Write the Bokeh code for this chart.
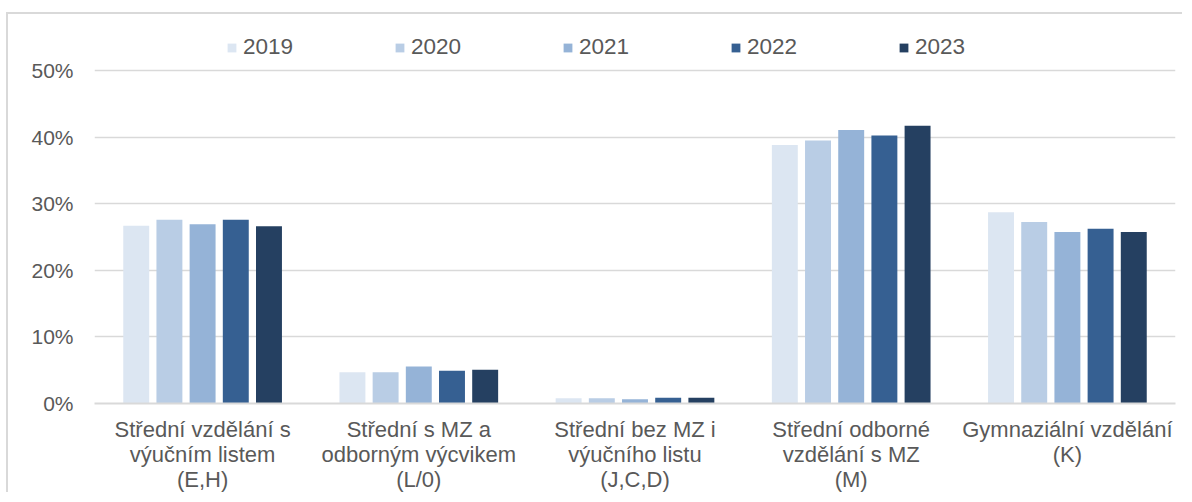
from bokeh.plotting import figure
from bokeh.models import (ColumnDataSource, FactorRange, Range1d, FixedTicker,
                          PrintfTickFormatter, Legend, LegendItem)
from bokeh.transform import dodge
from bokeh.embed import file_html
from bokeh.resources import INLINE

categories = [
    "Střední vzdělání s\nvýučním listem\n(E,H)",
    "Střední s MZ a\nodborným výcvikem\n(L/0)",
    "Střední bez MZ i\nvýučního listu\n(J,C,D)",
    "Střední odborné\nvzdělání s MZ\n(M)",
    "Gymnaziální vzdělání\n(K)",
]
years = ["2019", "2020", "2021", "2022", "2023"]
v2019 = [26.7, 4.7, 0.8, 38.8, 28.7]
v2020 = [27.6, 4.7, 0.8, 39.5, 27.25]
v2021 = [26.9, 5.55, 0.65, 41.05, 25.75]
v2022 = [27.6, 4.9, 0.85, 40.25, 26.25]
v2023 = [26.6, 5.05, 0.85, 41.7, 25.75]
y_ticks = [0, 10, 20, 30, 40, 50]

colors = ["#DCE6F2", "#B9CDE5", "#95B3D7", "#366092", "#254061"]
series = [v2019, v2020, v2021, v2022, v2023]

src = ColumnDataSource(dict(cat=categories, **{y: s for y, s in zip(years, series)}))

FONT = "Liberation Sans"
TXT = "#595959"
GRID = "#D9D9D9"

# frame spans from just above the legend down to 0 %; the chart box border is CSS
p = figure(width=1176, height=480, x_range=FactorRange(factors=categories, range_padding=0),
           y_range=Range1d(0, 57.06), output_backend="svg", toolbar_location=None,
           min_border_left=86, min_border_right=9, min_border_top=9, min_border_bottom=91,
           styles={"margin-left": "6px", "margin-top": "12px",
                   "border-left": "2px solid #D9D9D9", "border-top": "2px solid #D9D9D9"})
p.outline_line_color = None
p.background_fill_color = "white"
p.border_fill_color = "white"

step = 0.1535
width = 0.12
renderers = []
for i, (yr, col) in enumerate(zip(years, colors)):
    r = p.vbar(x=dodge("cat", (i - 2) * step, range=p.x_range), top=yr, width=width,
               source=src, fill_color=col, line_color=None)
    renderers.append(r)

for ax in (p.xaxis, p.yaxis):
    ax.major_tick_line_color = None
    ax.minor_tick_line_color = None
    ax.major_tick_out = 0
    ax.major_tick_in = 0
    ax.minor_tick_out = 0
    ax.major_label_text_font = FONT
    ax.major_label_text_color = TXT

p.yaxis.ticker = FixedTicker(ticks=y_ticks)
p.yaxis.formatter = PrintfTickFormatter(format="%d%%")
p.yaxis.axis_line_color = None
p.yaxis.major_label_standoff = 21
p.yaxis.major_label_text_font_size = "21px"

p.xaxis.axis_line_color = GRID
p.xaxis.axis_line_width = 2
p.xaxis.major_label_standoff = 13
p.xaxis.major_label_text_font_size = "22px"
p.xaxis.major_label_text_line_height = 1.0

p.xgrid.grid_line_color = None
p.ygrid.grid_line_color = GRID
p.ygrid.grid_line_width = 1.5

legend = Legend(items=[LegendItem(label=y, renderers=[r]) for y, r in zip(years, renderers)],
                orientation="horizontal", location=(132, 343))
legend.border_line_color = None
legend.background_fill_alpha = 0
legend.padding = 0
legend.margin = 0
legend.glyph_width = 11
legend.glyph_height = 11
legend.label_standoff = 6
legend.label_width = 51
legend.label_height = 22
legend.spacing = 100
legend.label_text_font = FONT
legend.label_text_font_size = "22.5px"
legend.label_text_color = TXT
p.add_layout(legend, "center")

open("out.html", "w").write(file_html(p, INLINE))
